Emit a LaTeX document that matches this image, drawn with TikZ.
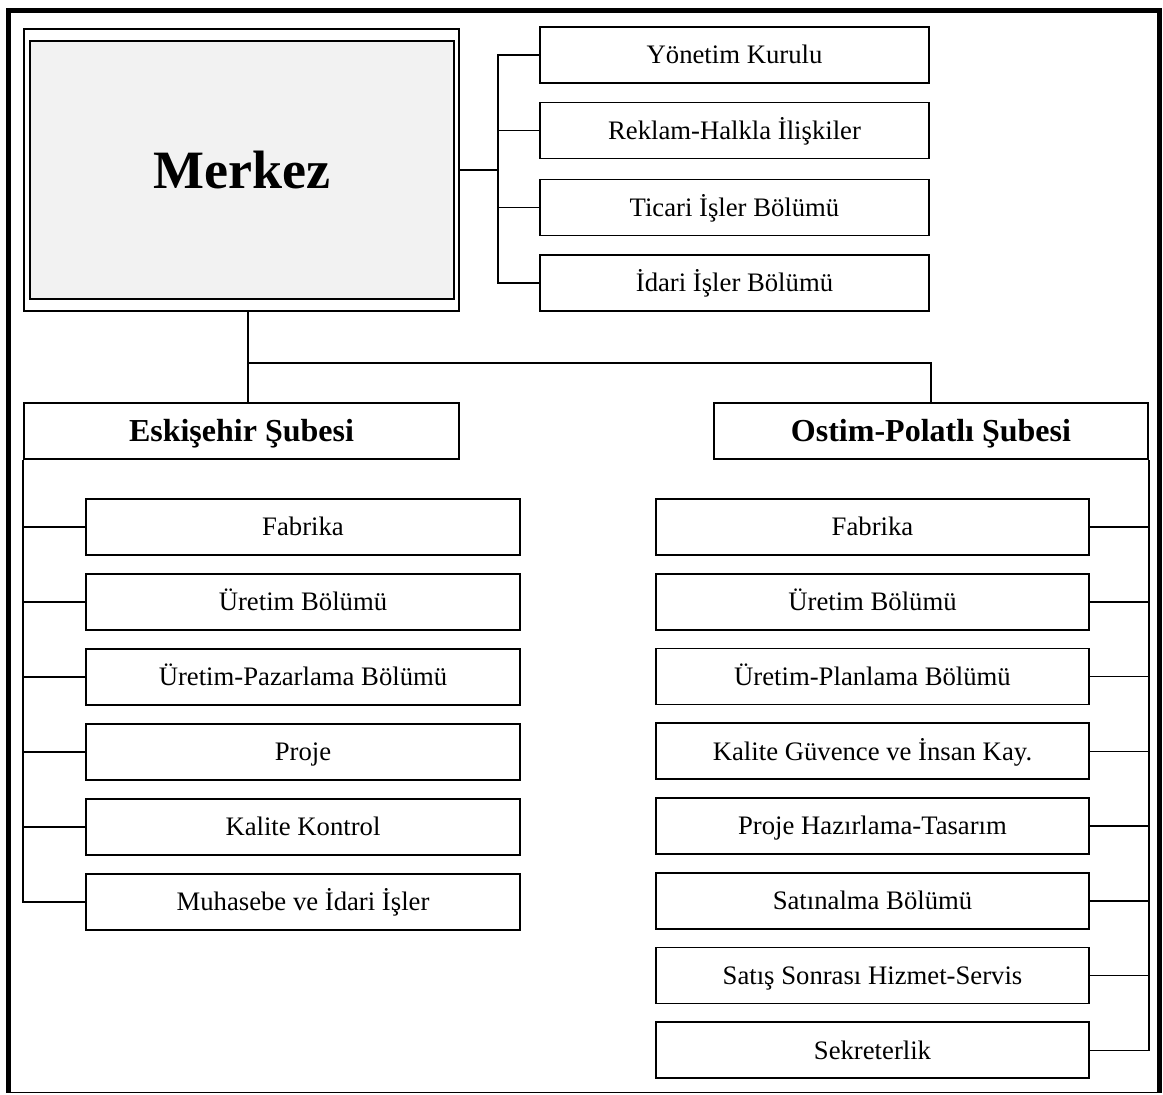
\documentclass[tikz,border=0pt]{standalone}
\usepackage{fontspec}
\setmainfont{Liberation Serif}
\begin{document}
\begin{tikzpicture}[x=1pt,y=-1pt,
  unitbox/.style={draw=black,line width=1.6pt,fill=white,inner sep=0pt,
    minimum height=56pt,text height=17.7pt,text depth=0pt,
    font=\fontsize{26.7}{32}\selectfont},
  branchbox/.style={unitbox,text height=21.6pt,font=\bfseries\fontsize{32}{38}\selectfont},
  link/.style={draw=black,line width=1.5pt}]
\useasboundingbox (0,0) rectangle (1163,1095);

% outer frame
\draw[line width=5pt] (8,1092.5) -- (8,10.5) -- (1159.5,10.5) -- (1159.5,1092.5);
\draw[line width=1.5pt] (8,1092.5) -- (1159.5,1092.5);

% head office
\node[draw=black,line width=1.2pt,minimum width=435pt,minimum height=282pt,inner sep=0pt]
  (merkez) at (241.5,170) {};
\node[draw=black,line width=2pt,fill=black!5,minimum width=423.5pt,minimum height=258pt,
  inner sep=0pt,font=\bfseries\fontsize{54}{60}\selectfont] (merkezin) at (241.75,170) {Merkez};

% head office units
\node[unitbox,minimum width=389pt] (t1) at (734.5,55) {Yönetim Kurulu};
\node[unitbox,minimum width=389pt] (t2) at (734.5,130.5) {Reklam-Halkla İlişkiler};
\node[unitbox,minimum width=389pt] (t3) at (734.5,207.5) {Ticari İşler Bölümü};
\node[unitbox,minimum width=389pt] (t4) at (734.5,283) {İdari İşler Bölümü};

\coordinate (tspine) at (498,170);
\draw[link] (merkez.east) -- (tspine);
\foreach \t in {t1,t2,t3,t4} \draw[link] (\t.west) -| (tspine);

% branches
\node[branchbox,minimum width=435pt] (eski) at (241.5,431) {Eskişehir Şubesi};
\node[branchbox,minimum width=434pt] (ostim) at (931,431) {Ostim-Polatlı Şubesi};

\coordinate (mj) at (248,363);
\draw[link] (merkez.south -| mj) -- (eski.north -| mj);
\draw[link] (mj) -| (ostim.north);

% Eskişehir units
\foreach \i/\txt in {0/Fabrika,1/Üretim Bölümü,2/Üretim-Pazarlama Bölümü,3/Proje,4/Kalite Kontrol,5/Muhasebe ve İdari İşler}{
  \node[unitbox,minimum width=434pt] (l\i) at (303,527+75*\i) {\txt};
  \draw[link] (l\i.west) -| (eski.south west);
}

% Ostim-Polatlı units
\foreach \i/\txt in {0/Fabrika,1/Üretim Bölümü,2/Üretim-Planlama Bölümü,3/Kalite Güvence ve İnsan Kay.,4/Proje Hazırlama-Tasarım,5/Satınalma Bölümü,6/Satış Sonrası Hizmet-Servis,7/Sekreterlik}{
  \node[unitbox,minimum width=433pt] (r\i) at (872.5,527+74.75*\i) {\txt};
  \draw[link] (r\i.east) -| (ostim.south east);
}
\end{tikzpicture}
\end{document}
